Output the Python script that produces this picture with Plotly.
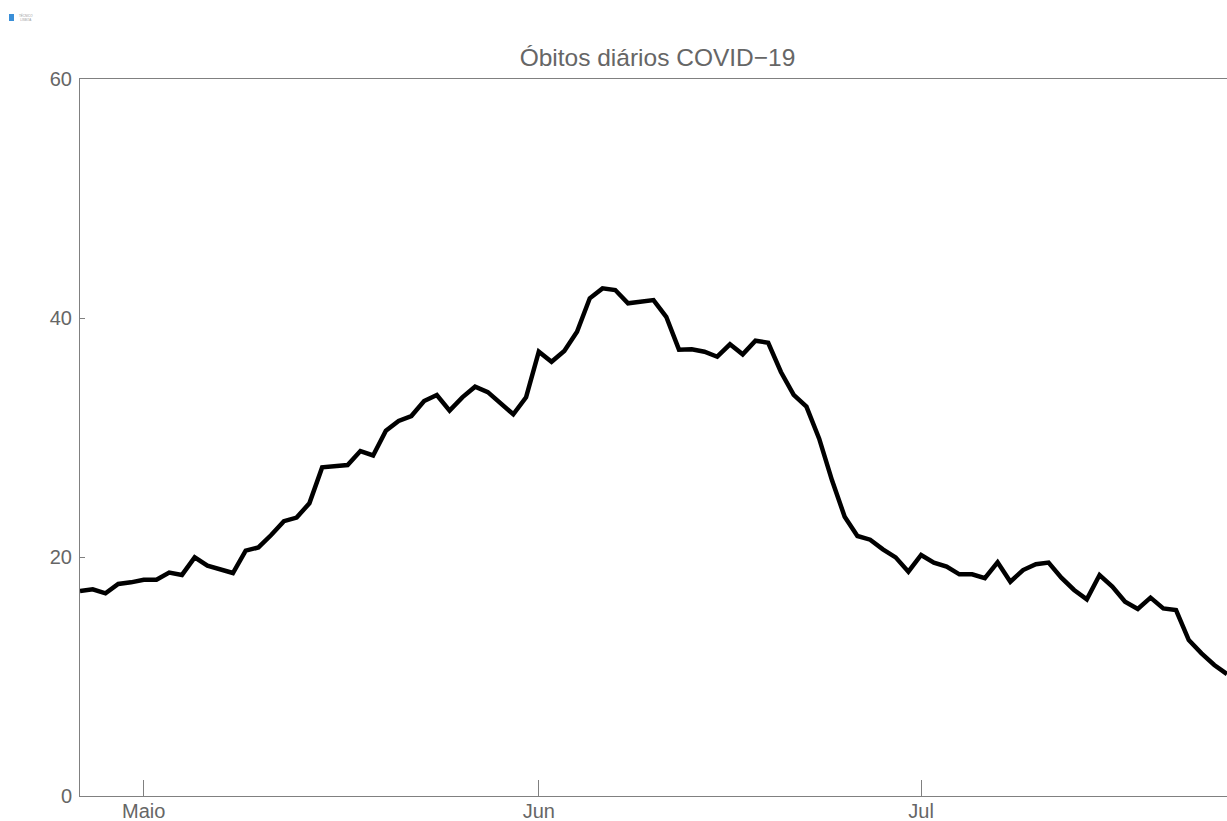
import pandas as pd
import plotly.graph_objects as go

# Daily deaths (7-day average), one value per day starting 26 April
start_date = "2020-04-26"
obitos = [
    17.15, 17.3, 16.96, 17.74, 17.88, 18.1, 18.1, 18.69, 18.5, 19.97,
    19.27, 19.0, 18.66, 20.53, 20.8, 21.84, 23.0, 23.3, 24.5, 27.5,
    27.6, 27.7, 28.87, 28.5, 30.57, 31.38, 31.8, 33.05, 33.56, 32.25,
    33.36, 34.25, 33.8, 32.86, 31.94, 33.36, 37.18, 36.34, 37.24, 38.85,
    41.65, 42.48, 42.34, 41.23, 41.37, 41.5, 40.1, 37.35, 37.38, 37.18,
    36.76, 37.8, 36.96, 38.1, 37.93, 35.48, 33.56, 32.58, 29.9, 26.44,
    23.37, 21.76, 21.45, 20.64, 19.97, 18.77, 20.17, 19.53, 19.19, 18.55,
    18.55, 18.22, 19.55, 17.93, 18.91, 19.39, 19.53, 18.27, 17.24, 16.46,
    18.49, 17.52, 16.26, 15.65, 16.6, 15.7, 15.56, 13.05, 11.94, 10.96,
    10.2,
]
datas = pd.date_range(start_date, periods=len(obitos), freq="D")

x_tick_vals = ["2020-05-01", "2020-06-01", "2020-07-01"]
x_tick_text = ["Maio", "Jun", "Jul"]
y_tick_vals = [0, 20, 40, 60]
titulo = "Óbitos diários COVID−19"

VW, VH = 1227, 821          # browser window
W, H = VW + 8, VH           # plot frame runs slightly past the right edge
L, R, T, B = 80, 0, 79, VH - 796
pw, ph = W - L - R, H - T - B

px_per_day = (VW - L) / (len(obitos) - 1)
extra_days = (W - VW) / px_per_day
x_end = datas[-1] + pd.Timedelta(days=extra_days)

def px2paper(px, py):
    return (px - L) / pw, (H - B - py) / ph

fig = go.Figure()
fig.add_trace(go.Scatter(
    x=datas, y=obitos, mode="lines",
    line=dict(color="black", width=4.5),
    hoverinfo="x+y", showlegend=False,
))

grey = "#808080"
font_family = "Liberation Sans, Arial, sans-serif"

fig.update_layout(
    width=W, height=H,
    margin=dict(l=L, r=R, t=T, b=B, pad=0),
    paper_bgcolor="white", plot_bgcolor="white",
    font=dict(family=font_family, color="#666666", size=20),
    title=dict(text=titulo, x=(L + pw / 2) / W, xanchor="center",
               y=1 - 57 / H, yanchor="middle", yref="container",
               font=dict(size=24.5, color="#666666", family=font_family)),
    xaxis=dict(
        type="date",
        range=[datas[0], x_end],
        tickvals=x_tick_vals, ticktext=x_tick_text,
        ticks="inside", ticklen=16, tickwidth=1, tickcolor=grey,
        showline=True, linecolor=grey, linewidth=1, mirror=True,
        showgrid=False, zeroline=False,
        ticklabelstandoff=-3,
        tickfont=dict(size=20, color="#666666"),
    ),
    yaxis=dict(
        range=[0, 60],
        tickvals=y_tick_vals,
        ticks="inside", ticklen=5, tickwidth=1, tickcolor=grey,
        showline=True, linecolor=grey, linewidth=1, mirror=False,
        showgrid=False, zeroline=False,
        ticklabelstandoff=3,
        tickfont=dict(size=20, color="#666666"),
    ),
)

# small logo in the top-left corner
x0, y0 = px2paper(9, 14)
x1, y1 = px2paper(14, 21)
fig.add_shape(type="rect", xref="paper", yref="paper",
              x0=x0, y0=y1, x1=x1, y1=y0,
              fillcolor="#3a8fd8", line=dict(width=0))
tx, ty = px2paper(17, 17)
fig.add_annotation(xref="paper", yref="paper", x=tx, y=ty,
                   text="TÉCNICO<br>LISBOA", showarrow=False,
                   xanchor="left", yanchor="middle",
                   font=dict(size=3, color="#999999"))

fig.write_html(
    "out.html",
    config={"displayModeBar": False},
    post_script="document.body.style.margin='0';"
                "document.body.style.overflow='hidden';"
                "document.documentElement.style.overflow='hidden';",
)
